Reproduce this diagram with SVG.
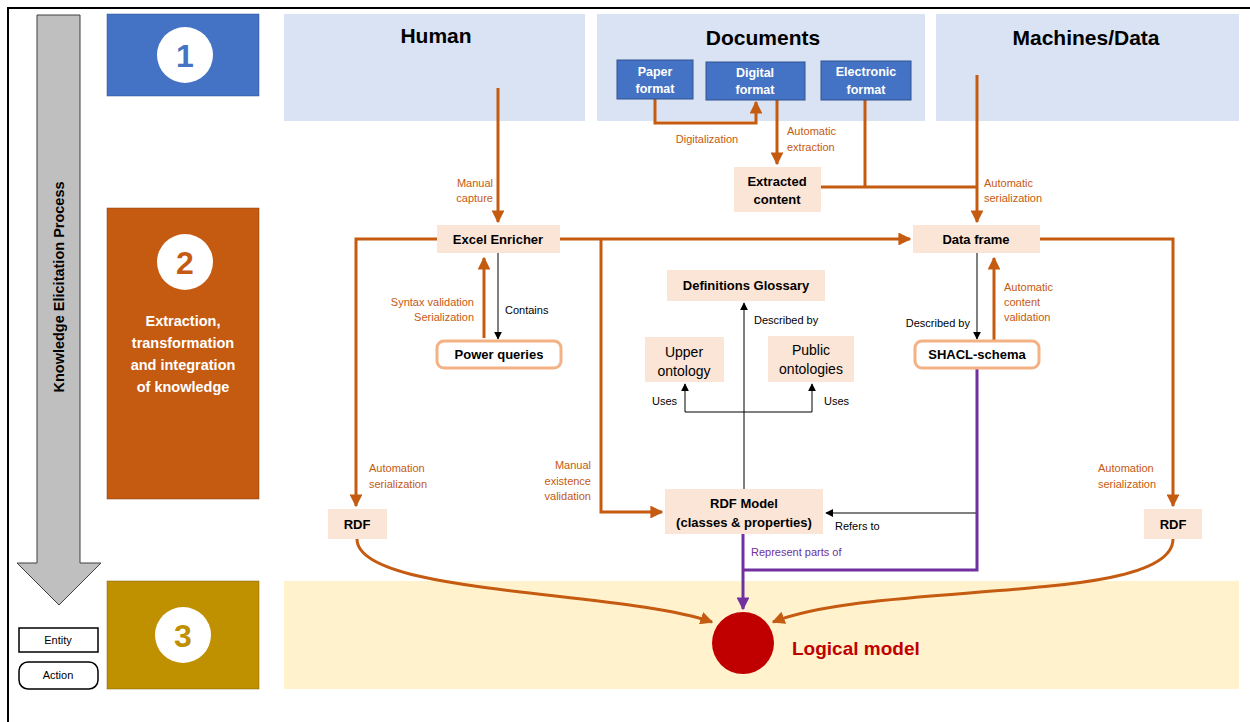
<svg xmlns="http://www.w3.org/2000/svg" width="1250" height="722" viewBox="0 0 1250 722">
<defs>
<style>
text{font-family:"Liberation Sans","Open Sans",sans-serif}
.hdr{font-size:21px;font-weight:bold;fill:#000;text-anchor:middle}
.node{fill:#FBE5D6}
.nt{font-size:13px;font-weight:bold;fill:#000;text-anchor:middle}
.nr{font-size:14px;fill:#000;text-anchor:middle}
.blue{fill:#4472C4;stroke:#2F528F;stroke-width:1}
.bt{font-size:12.5px;font-weight:bold;fill:#fff;text-anchor:middle}
.act{fill:#fff;stroke:#F4B183;stroke-width:3}
.o{stroke:#C55A11;stroke-width:3;fill:none}
.k{stroke:#000;stroke-width:1;fill:none}
.p{stroke:#7030A0;stroke-width:3;fill:none}
.ol{font-size:11px;fill:#C55A11}
.kl{font-size:11px;fill:#000}
.pl{font-size:11px;fill:#7030A0}
.num{font-size:32px;font-weight:bold;text-anchor:middle}
</style>
<marker id="ao" viewBox="0 0 10 10" refX="9" refY="5" markerWidth="4.3" markerHeight="4.3" orient="auto" markerUnits="strokeWidth"><path d="M0,0 L10,5 L0,10 z" fill="#C55A11"/></marker>
<marker id="ak" viewBox="0 0 10 10" refX="9" refY="5" markerWidth="8" markerHeight="8" orient="auto" markerUnits="strokeWidth"><path d="M0,0 L10,5 L0,10 z" fill="#000"/></marker>
<marker id="ap" viewBox="0 0 10 10" refX="9" refY="5" markerWidth="4.3" markerHeight="4.3" orient="auto" markerUnits="strokeWidth"><path d="M0,0 L10,5 L0,10 z" fill="#7030A0"/></marker>
</defs>
<rect width="1250" height="722" fill="#fff"/>
<rect x="8" y="8" width="1260" height="740" fill="none" stroke="#000" stroke-width="2"/>

<g id="process-arrow">
<path d="M37,15 H80 V563 H101 L59,605 L17,563 H37 Z" fill="#BFBFBF" stroke="#404040" stroke-width="1"/>
<text transform="translate(64,287) rotate(-90)" style="font-size:14.5px;font-weight:bold;text-anchor:middle">Knowledge Elicitation Process</text>
</g>

<g id="legend">
<rect x="19" y="628" width="79" height="24" fill="#fff" stroke="#000" stroke-width="1.5"/>
<text x="58" y="644" style="font-size:11px;text-anchor:middle">Entity</text>
<rect x="19" y="662" width="79" height="27" rx="9" fill="#fff" stroke="#000" stroke-width="1.5"/>
<text x="58" y="679" style="font-size:11px;text-anchor:middle">Action</text>
</g>

<g id="panels">
<rect x="284" y="14" width="301" height="107" fill="#DAE3F3"/>
<rect x="597" y="14" width="328" height="107" fill="#DAE3F3"/>
<rect x="936" y="14" width="303" height="107" fill="#DAE3F3"/>
<rect x="284" y="581" width="955" height="108" fill="#FFF2CC"/>
<text class="hdr" x="436" y="43">Human</text>
<text class="hdr" x="763" y="45">Documents</text>
<text class="hdr" x="1086" y="45">Machines/Data</text>
</g>

<g id="step1">
<rect x="107" y="14" width="152" height="82" fill="#4472C4" stroke="#2F528F" stroke-width="0.5"/>
<circle cx="185" cy="55" r="28" fill="#fff"/>
<text class="num" x="185" y="67" fill="#4472C4">1</text>
</g>
<g id="step2">
<rect x="107" y="208" width="152" height="291" fill="#C55A11" stroke="#843C0C" stroke-width="0.5"/>
<circle cx="185" cy="262" r="28" fill="#fff"/>
<text class="num" x="185" y="274" fill="#C55A11">2</text>
<text x="183" y="326" style="font-size:14.5px;font-weight:bold;fill:#fff;text-anchor:middle">Extraction,</text>
<text x="183" y="348" style="font-size:14.5px;font-weight:bold;fill:#fff;text-anchor:middle">transformation</text>
<text x="183" y="370" style="font-size:14.5px;font-weight:bold;fill:#fff;text-anchor:middle">and integration</text>
<text x="183" y="392" style="font-size:14.5px;font-weight:bold;fill:#fff;text-anchor:middle">of knowledge</text>
</g>
<g id="step3">
<rect x="107" y="581" width="152" height="108" fill="#BF9000" stroke="#7F6000" stroke-width="0.5"/>
<circle cx="183" cy="635" r="28" fill="#fff"/>
<text class="num" x="183" y="647" fill="#BF9000">3</text>
</g>

<g id="connectors">
<path class="o" d="M498,88 V222" marker-end="url(#ao)"/>
<path class="o" d="M655,99 V123 H756 V102" marker-end="url(#ao)"/>
<path class="o" d="M777,100 V164" marker-end="url(#ao)"/>
<path class="o" d="M865,100 V187"/>
<path class="o" d="M821,187 H977"/>
<path class="o" d="M977,75 V222" marker-end="url(#ao)"/>
<path class="o" d="M560,239 H910" marker-end="url(#ao)"/>
<path class="o" d="M437,239 H356 V506" marker-end="url(#ao)"/>
<path class="o" d="M601,239 V512 H662" marker-end="url(#ao)"/>
<path class="o" d="M1040,239 H1173 V506" marker-end="url(#ao)"/>
<path class="o" d="M484,338 V258" marker-end="url(#ao)"/>
<path class="o" d="M994,340 V258" marker-end="url(#ao)"/>
<path class="k" d="M498,253 V339" marker-end="url(#ak)"/>
<path class="k" d="M977,253 V339" marker-end="url(#ak)"/>
<path class="k" d="M744,489 V303" marker-end="url(#ak)"/>
<path class="k" d="M685,412 H812"/>
<path class="k" d="M685,412 V384" marker-end="url(#ak)"/>
<path class="k" d="M812,412 V384" marker-end="url(#ak)"/>
<path class="k" d="M977,513 H826" marker-end="url(#ak)"/>
<path class="p" d="M977,368 V570 H743"/>
<path class="p" d="M743,534 V609" marker-end="url(#ap)"/>
<path class="o" d="M357,539 C357,595 620,590 712,622" marker-end="url(#ao)"/>
<path class="o" d="M1173,539 C1173,605 880,580 773,622" marker-end="url(#ao)"/>
<text class="ol" x="493" y="187" text-anchor="end">Manual</text>
<text class="ol" x="493" y="202" text-anchor="end">capture</text>
<text class="ol" x="707" y="143" text-anchor="middle">Digitalization</text>
<text class="ol" x="787" y="135">Automatic</text>
<text class="ol" x="787" y="151">extraction</text>
<text class="ol" x="984" y="187">Automatic</text>
<text class="ol" x="984" y="202">serialization</text>
<text class="ol" x="474" y="306" text-anchor="end">Syntax validation</text>
<text class="ol" x="474" y="321" text-anchor="end">Serialization</text>
<text class="kl" x="505" y="314">Contains</text>
<text class="kl" x="970" y="327" text-anchor="end">Described by</text>
<text class="ol" x="1004" y="291">Automatic</text>
<text class="ol" x="1004" y="306">content</text>
<text class="ol" x="1004" y="321">validation</text>
<text class="kl" x="754" y="324">Described by</text>
<text class="kl" x="652" y="405">Uses</text>
<text class="kl" x="824" y="405">Uses</text>
<text class="ol" x="369" y="472">Automation</text>
<text class="ol" x="369" y="488">serialization</text>
<text class="ol" x="591" y="469" text-anchor="end">Manual</text>
<text class="ol" x="591" y="485" text-anchor="end">existence</text>
<text class="ol" x="591" y="500" text-anchor="end">validation</text>
<text class="ol" x="1098" y="472">Automation</text>
<text class="ol" x="1098" y="488">serialization</text>
<text class="kl" x="835" y="530">Refers to</text>
<text class="pl" x="751" y="556">Represent parts of</text>
</g>

<g id="paper-format"><rect class="blue" x="617" y="60" width="76" height="39"/><text class="bt" x="655" y="76">Paper</text><text class="bt" x="655" y="93">format</text></g>
<g id="digital-format"><rect class="blue" x="706" y="62" width="99" height="38"/><text class="bt" x="755" y="77">Digital</text><text class="bt" x="755" y="94">format</text></g>
<g id="electronic-format"><rect class="blue" x="821" y="61" width="90" height="39"/><text class="bt" x="866" y="76">Electronic</text><text class="bt" x="866" y="94">format</text></g>

<g id="extracted-content"><rect class="node" x="734" y="167" width="87" height="45"/><text class="nt" x="777" y="186">Extracted</text><text class="nt" x="777" y="204">content</text></g>
<g id="excel-enricher"><rect class="node" x="437" y="225" width="123" height="28"/><text class="nt" x="498" y="244">Excel Enricher</text></g>
<g id="data-frame"><rect class="node" x="913" y="225" width="127" height="28"/><text class="nt" x="976" y="244">Data frame</text></g>
<g id="definitions-glossary"><rect class="node" x="667" y="270" width="158" height="31"/><text class="nt" x="746" y="290">Definitions Glossary</text></g>
<g id="power-queries"><rect class="act" x="437" y="341" width="124" height="27" rx="7"/><text class="nt" x="499" y="359">Power queries</text></g>
<g id="shacl-schema"><rect class="act" x="915" y="341" width="124" height="27" rx="7"/><text class="nt" x="977" y="359">SHACL-schema</text></g>
<g id="upper-ontology"><rect class="node" x="645" y="337" width="79" height="45"/><text class="nr" x="684" y="357">Upper</text><text class="nr" x="684" y="376">ontology</text></g>
<g id="public-ontologies"><rect class="node" x="768" y="336" width="86" height="46"/><text class="nr" x="811" y="355">Public</text><text class="nr" x="811" y="374">ontologies</text></g>
<g id="rdf-model"><rect class="node" x="665" y="489" width="158" height="45"/><text class="nt" x="744" y="508">RDF Model</text><text class="nt" x="744" y="527">(classes &amp; properties)</text></g>
<g id="rdf-left"><rect class="node" x="328" y="509" width="59" height="30"/><text class="nt" x="357" y="529">RDF</text></g>
<g id="rdf-right"><rect class="node" x="1144" y="509" width="58" height="30"/><text class="nt" x="1173" y="529">RDF</text></g>
<g id="logical-model"><circle cx="743" cy="643" r="31" fill="#C00000"/><text x="792" y="655" style="font-size:19px;font-weight:bold;fill:#C00000">Logical model</text></g>
</svg>
